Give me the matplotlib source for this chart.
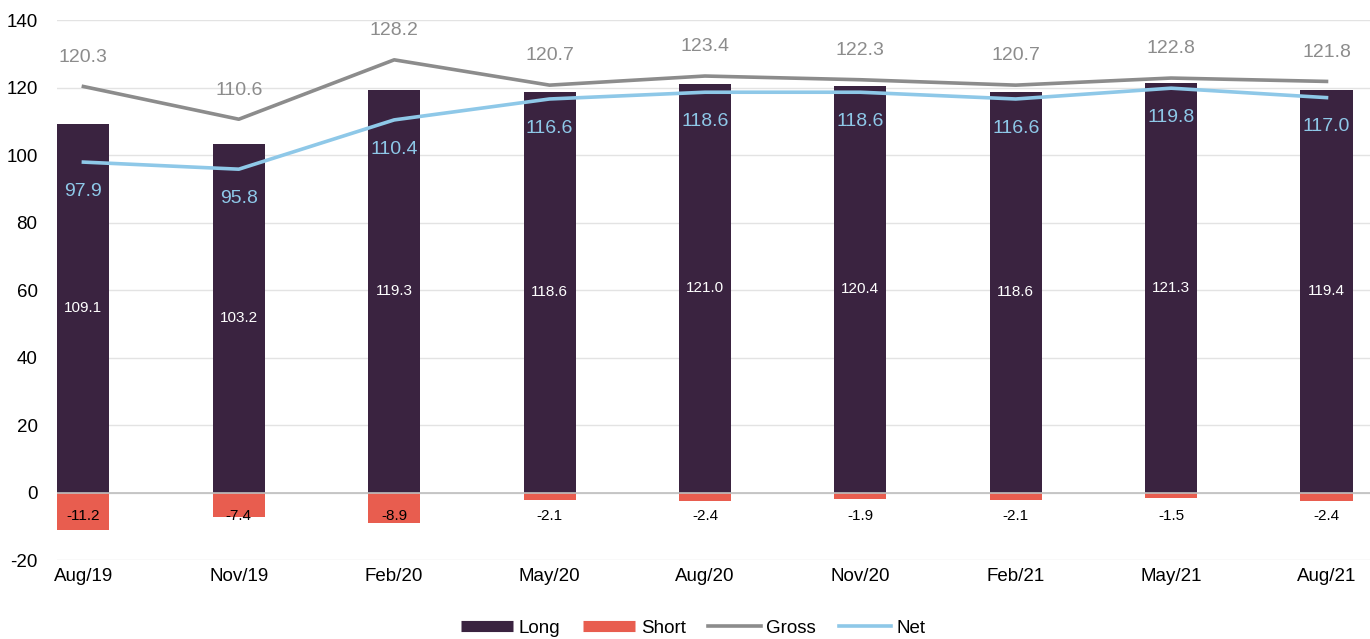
import numpy as np
import matplotlib.pyplot as plt
from matplotlib.lines import Line2D

dates = ['Aug/19', 'Nov/19', 'Feb/20', 'May/20', 'Aug/20', 'Nov/20', 'Feb/21', 'May/21', 'Aug/21']
long_vals = [109.1, 103.2, 119.3, 118.6, 121.0, 120.4, 118.6, 121.3, 119.4]
short_vals = [-11.2, -7.4, -8.9, -2.1, -2.4, -1.9, -2.1, -1.5, -2.4]
gross_vals = [120.3, 110.6, 128.2, 120.7, 123.4, 122.3, 120.7, 122.8, 121.8]
net_vals = [97.9, 95.8, 110.4, 116.6, 118.6, 118.6, 116.6, 119.8, 117.0]

c_long = '#3A2340'
c_short = '#E85D4F'
c_gross = '#8C8C8C'
c_net = '#8EC8E8'

plt.rcParams['font.family'] = ['Liberation Sans', 'DejaVu Sans']
plt.rcParams['axes.unicode_minus'] = False

fig = plt.figure(figsize=(13.7, 6.39), dpi=100)
ax = fig.add_axes([0.0416, 0.1236, 0.9584, 0.8451])

x = np.arange(len(dates))
w = 0.335
ax.bar(x, long_vals, w, color=c_long, zorder=2)
ax.bar(x, short_vals, w, color=c_short, zorder=2)
ax.plot(x, gross_vals, color=c_gross, lw=2.6, zorder=3)
ax.plot(x, net_vals, color=c_net, lw=2.6, zorder=3)

for i in range(len(x)):
    ax.text(x[i], long_vals[i] / 2, f'{long_vals[i]:.1f}', color='white', fontsize=11,
            ha='center', va='center', zorder=4)
    ax.text(x[i], -7, f'{short_vals[i]:.1f}', color='black', fontsize=11,
            ha='center', va='center', zorder=4)
    ax.annotate(f'{gross_vals[i]:.1f}', (x[i], gross_vals[i]), xytext=(0, 21),
                textcoords='offset points', ha='center', va='center',
                color=c_gross, fontsize=14, zorder=4)
    ax.annotate(f'{net_vals[i]:.1f}', (x[i], net_vals[i]), xytext=(0, -21),
                textcoords='offset points', ha='center', va='center',
                color=c_net, fontsize=14, zorder=4)

ax.set_xlim(-0.17, 8.28)
ax.set_ylim(-20, 140)
ax.set_yticks(range(-20, 141, 20))
ax.set_xticks(x)
ax.set_xticklabels(dates)
ax.tick_params(axis='both', length=0, labelsize=13.5, pad=6)
ax.tick_params(axis='y', pad=14)
ax.grid(axis='y', color='#E3E3E3', lw=1, zorder=0)
ax.axhline(0, color='#BFBFBF', lw=1.2, zorder=2.5)
for s in ax.spines.values():
    s.set_visible(False)

handles = [Line2D([], [], color=c_long, lw=8, solid_capstyle='butt'),
           Line2D([], [], color=c_short, lw=8, solid_capstyle='butt'),
           Line2D([], [], color=c_gross, lw=2.6),
           Line2D([], [], color=c_net, lw=2.6)]
fig.legend(handles, ['Long', 'Short', 'Gross', 'Net'], loc='center', bbox_to_anchor=(0.506, 0.017),
           ncol=4, frameon=False, fontsize=13.5, handlelength=2.8, columnspacing=1.2, handletextpad=0.3)

fig.savefig('out.png', dpi=100)
